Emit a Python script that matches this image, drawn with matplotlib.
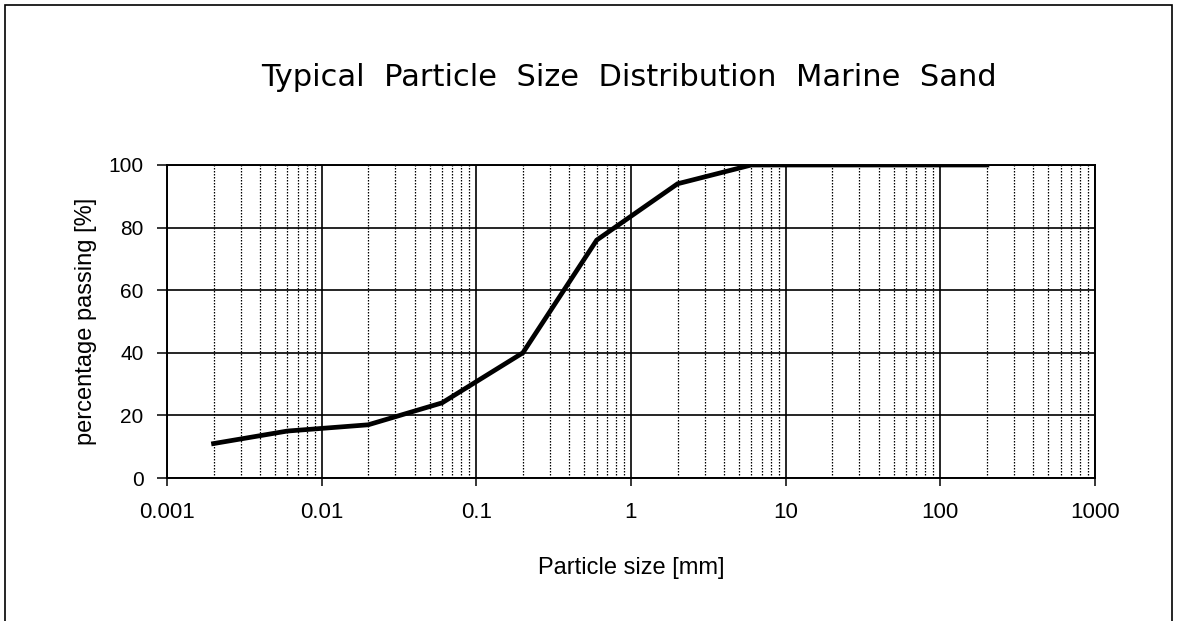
import matplotlib

matplotlib.use("Agg")
import matplotlib.pyplot as plt
from matplotlib.patches import Rectangle
from matplotlib.ticker import FixedLocator, LogLocator, NullFormatter

# grading curve
particle_size_mm = [0.002, 0.006, 0.02, 0.06, 0.2, 0.6, 2, 6, 20, 60, 200]
passing_pct = [11, 15, 17, 24, 40, 76, 94, 100, 100, 100, 100]

x_ticks = [0.001, 0.01, 0.1, 1, 10, 100, 1000]
x_tick_labels = ["0.001", "0.01", "0.1", "1", "10", "100", "1000"]
y_ticks = [0, 20, 40, 60, 80, 100]

plt.rcParams["font.family"] = ["Liberation Sans", "DejaVu Sans"]

fig = plt.figure(figsize=(11.79, 6.21), dpi=100)
ax = fig.add_axes([167 / 1179, 1 - 478 / 621, (1095 - 167) / 1179, (478 - 165) / 621])

ax.plot(particle_size_mm, passing_pct, color="black", linewidth=3.4,
        solid_joinstyle="miter", zorder=5)

ax.set_xscale("log")
ax.set_xlim(0.001, 1000)
ax.set_ylim(0, 100)

ax.xaxis.set_major_locator(FixedLocator(x_ticks))
ax.set_xticklabels(x_tick_labels)
ax.xaxis.set_minor_locator(LogLocator(base=10, subs=range(2, 10), numticks=20))
ax.xaxis.set_minor_formatter(NullFormatter())
ax.set_yticks(y_ticks)

ax.grid(True, which="major", axis="both", color="black", linewidth=1.2)
ax.grid(True, which="minor", axis="x", color="black", linewidth=0.9,
        linestyle=(0, (1.2, 1.2)))

ax.tick_params(axis="y", which="major", labelsize=15, direction="out",
               length=7, width=1.1, colors="black", pad=10)
ax.tick_params(axis="x", which="major", labelsize=16, direction="out",
               length=6, width=1.1, colors="black", pad=11)
ax.tick_params(axis="x", which="minor", length=0)
for spine in ax.spines.values():
    spine.set_linewidth(1.4)

ax.set_xlabel("Particle size [mm]", fontsize=17, labelpad=25)
ax.set_ylabel("percentage passing [%]", fontsize=17, labelpad=8)

fig.text(629 / 1179, 1 - 86 / 621, "Typical  Particle  Size  Distribution  Marine  Sand",
         ha="center", va="baseline", fontsize=22, family="DejaVu Sans")

# outer frame of the scanned page
fig.patches.append(Rectangle((5 / 1179, -0.01), (1172 - 5) / 1179, 1 - 5 / 621 + 0.01,
                             transform=fig.transFigure, fill=False,
                             edgecolor="black", linewidth=1.2))

fig.savefig("out.png", dpi=100)
